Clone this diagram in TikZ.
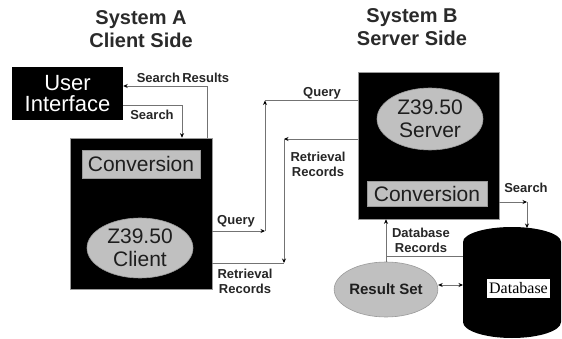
\documentclass[tikz,border=0pt]{standalone}
\usepackage{fontspec}
\setmainfont{Liberation Sans}
\newfontfamily\dbserif{Liberation Serif}
\usetikzlibrary{arrows.meta,shapes.geometric}
\definecolor{boxgray}{HTML}{C0C0C0}
\definecolor{edgegray}{HTML}{9A9A9A}
\definecolor{titlegray}{HTML}{2A2A2A}
\definecolor{inktext}{HTML}{1E1E1E}
\begin{document}
\begin{tikzpicture}[x=1pt,y=-1pt,
  conn/.style={draw=black!55, line width=0.9pt},
  arr/.style={conn, -{Stealth[length=4.5pt,width=4pt,color=black]}},
  darr/.style={conn, {Stealth[length=4.5pt,width=4pt,color=black]}-{Stealth[length=4.5pt,width=4pt,color=black]}},
  lbl/.style={font=\fontsize{13}{15}\selectfont\bfseries, text=black!85, inner sep=0pt, align=center},
  title/.style={font=\fontsize{20}{23}\selectfont\bfseries, text=titlegray, inner sep=0pt, align=center},
  blackbox/.style={fill=black, draw=edgegray, line width=0.6pt, inner sep=0pt},
  graybox/.style={fill=boxgray, draw=edgegray, line width=0.6pt, inner sep=0pt,
    font=\fontsize{21}{23}\selectfont, text=inktext},
  grayell/.style={ellipse, fill=boxgray, draw=edgegray, line width=0.6pt, inner sep=0pt, align=center,
    font=\fontsize{21}{23}\selectfont, text=inktext}
]
\useasboundingbox (0,0) rectangle (562,339);

% titles
\node[title] (ta) at (141,29) {System A\\Client Side};
\node[title] (tb) at (412,27) {System B\\Server Side};

% client side
\node[fill=black, inner sep=0pt, minimum width=111pt, minimum height=53pt, text=white,
  align=center, font=\fontsize{22}{21}\selectfont] (ui) at (67.5,93.5) {User\\Interface};
\node[blackbox, minimum width=142pt, minimum height=151pt] (lbox) at (141,213.5) {};
\node[graybox, minimum width=118pt, minimum height=28pt] (lconv) at (141,164) {Conversion};
\node[grayell, minimum width=106pt, minimum height=60pt] (client) at (140,248) {Z39.50\\Client};

% server side
\node[blackbox, minimum width=141pt, minimum height=147pt] (sbox) at (428.5,145.5) {};
\node[grayell, minimum width=106pt, minimum height=62pt] (server) at (430,119) {Z39.50\\Server};
\node[graybox, minimum width=120pt, minimum height=25pt] (sconv) at (427,193.5) {Conversion};
\node[grayell, minimum width=98pt, minimum height=55pt, font=\fontsize{15}{17}\selectfont\bfseries] (rs) at (386,289.5) {Result Set};

% database cylinder
\fill[black] (463,242) -- (463,322) arc[start angle=180, end angle=360, x radius=49pt, y radius=16pt]
  -- (561,242) arc[start angle=0, end angle=180, x radius=49pt, y radius=15pt] -- cycle;
\node[fill=white, inner sep=0pt, minimum width=63pt, minimum height=19pt,
  font=\dbserif\fontsize{16}{18}\selectfont] (db) at (518.5,288.5) {Database};
\coordinate (dbleft) at (463,285);
\coordinate (dbtop) at (527,228);

% connector corner points
\coordinate (sr) at (207,86);
\coordinate (s1) at (182,105);
\coordinate (q1) at (265,231);
\coordinate (q2) at (265,100.5);
\coordinate (r1) at (284,139);
\coordinate (r2) at (284,263);
\coordinate (s2) at (527,202);
\coordinate (d1) at (386,256);

% Search Results / Search
\draw[arr] (lbox.north -| sr) -- (sr) -- (ui.east |- sr);
\draw[arr] (ui.east |- s1) -- (s1) -- (lbox.north -| s1);
% Query
\draw[arr] (lbox.east |- q1) -- (q1);
\draw[arr] (q1) -- (q2);
\draw[conn] (q2) -- (sbox.west |- q2);
% Retrieval Records
\draw[arr] (sbox.west |- r1) -- (r1);
\draw[arr] (r1) -- (r2);
\draw[conn] (r2) -- (lbox.east |- r2);
% Search to database
\draw[arr] (sbox.east |- s2) -- (s2);
\draw[arr] (s2) -- (dbtop);
% Database Records
\draw[arr] (rs.north) -- (sbox.south -| rs.north);
\draw[conn] (d1) -- (dbleft |- d1);
% Result set <-> database
\draw[darr] (rs.east |- dbleft) -- (dbleft);

% labels
\node[lbl] (lsr) at (183,78) {Search\,Results};
\node[lbl] (ls1) at (152,115) {Search};
\node[lbl] (lq2) at (322,93) {Query};
\node[lbl] (lr1) at (318,164.5) {Retrieval\\Records};
\node[lbl] (lq1) at (236,221) {Query};
\node[lbl] (lr2) at (245,281.5) {Retrieval\\Records};
\node[lbl] (ls2) at (526,188) {Search};
\node[lbl] (ld1) at (421,240) {Database\\Records};
\end{tikzpicture}
\end{document}
